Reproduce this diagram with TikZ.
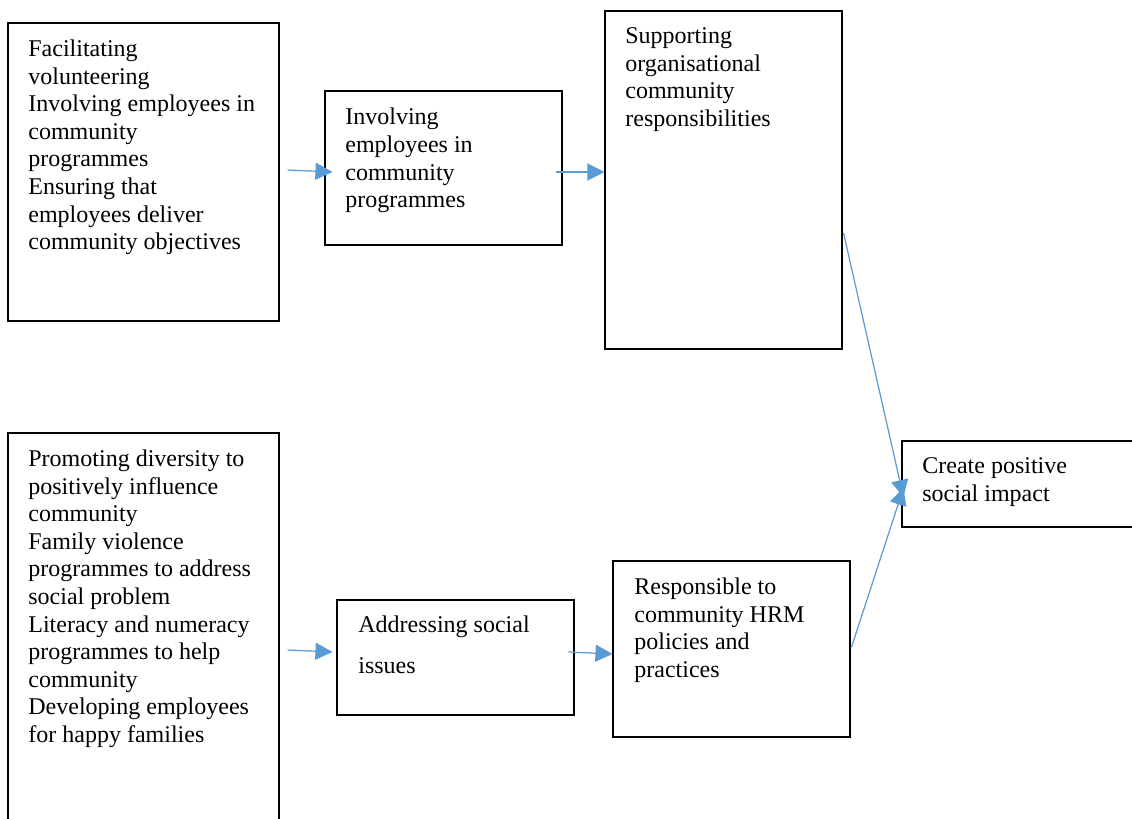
\documentclass[tikz,border=0pt]{standalone}
\usepackage{fontspec}
\setmainfont{Liberation Serif}
\usetikzlibrary{arrows.meta,calc,fit}
\definecolor{flowblue}{HTML}{5B9BD5}
\tikzset{
  box/.style={draw=black, line width=0.55pt, inner sep=0pt, rectangle},
  txt/.style={anchor=north west, inner sep=0pt, align=left,
              font=\fontsize{12}{13.8}\selectfont},
  arr/.style={draw=flowblue, line width=0.6pt,
              -{Triangle[length=8.5pt,width=8.5pt]}, fill=flowblue},
}
\newcommand{\fl}{\rule{0pt}{10pt}}
\begin{document}
\begin{tikzpicture}[x=0.5pt,y=-0.5pt]
  \clip (0,0) rectangle (1132,819);
  \fill[white] (0,0) rectangle (1132,819);

  % boxes
  \node[box, fit={(8,23)(279,321)}] (A) {};
  \node[box, fit={(325,91)(562,245)}] (B) {};
  \node[box, fit={(605,11)(842,349)}] (C) {};
  \node[box, fit={(902,441)(1140,527)}] (D) {};
  \node[box, fit={(8,433)(279,830)}] (E) {};
  \node[box, fit={(337,600)(574,715)}] (F) {};
  \node[box, fit={(613,561)(850,737)}] (G) {};

  % box texts
  \node[txt] (At) at (28,36) {\fl Facilitating\\volunteering\\Involving employees in\\community\\programmes\\Ensuring that\\employees deliver\\community objectives};
  \node[txt] (Bt) at (345,104.5) {\fl Involving\\employees in\\community\\programmes};
  \node[txt] (Ct) at (625,23) {\fl Supporting\\organisational\\community\\responsibilities};
  \node[txt] (Dt) at (922,453.5) {\fl Create positive\\social impact};
  \node[txt] (Et) at (28,446) {\fl Promoting diversity to\\positively influence\\community\\Family violence\\programmes to address\\social problem\\Literacy and numeracy\\programmes to help\\community\\Developing employees\\for happy families};
  \node[txt] (Ft) at (358,612.5) {\fl Addressing social\\[6.7pt]issues};
  \node[txt] (Gt) at (634,574) {\fl Responsible to\\community HRM\\policies and\\practices};

  % connectors
  \draw[arr] ($(A.east)+(8,-2)$) -- ($(B.west)+(8,4)$);
  \draw[arr] ($(B.east)+(-7,4)$) -- ($(C.west)+(0,-8)$);
  \draw[arr] ($(C.east)+(1,53)$) -- ($(D.west)+(2,13)$);
  \draw[arr] ($(G.east)+(1,-2)$) -- ($(D.west)+(2,4)$);
  \draw[arr] ($(E.east)+(8,18.5)$) -- ($(F.west)+(-4,-5.5)$);
  \draw[arr] ($(F.east)+(-6,-5.5)$) -- ($(G.west)+(0,5)$);
\end{tikzpicture}
\end{document}
